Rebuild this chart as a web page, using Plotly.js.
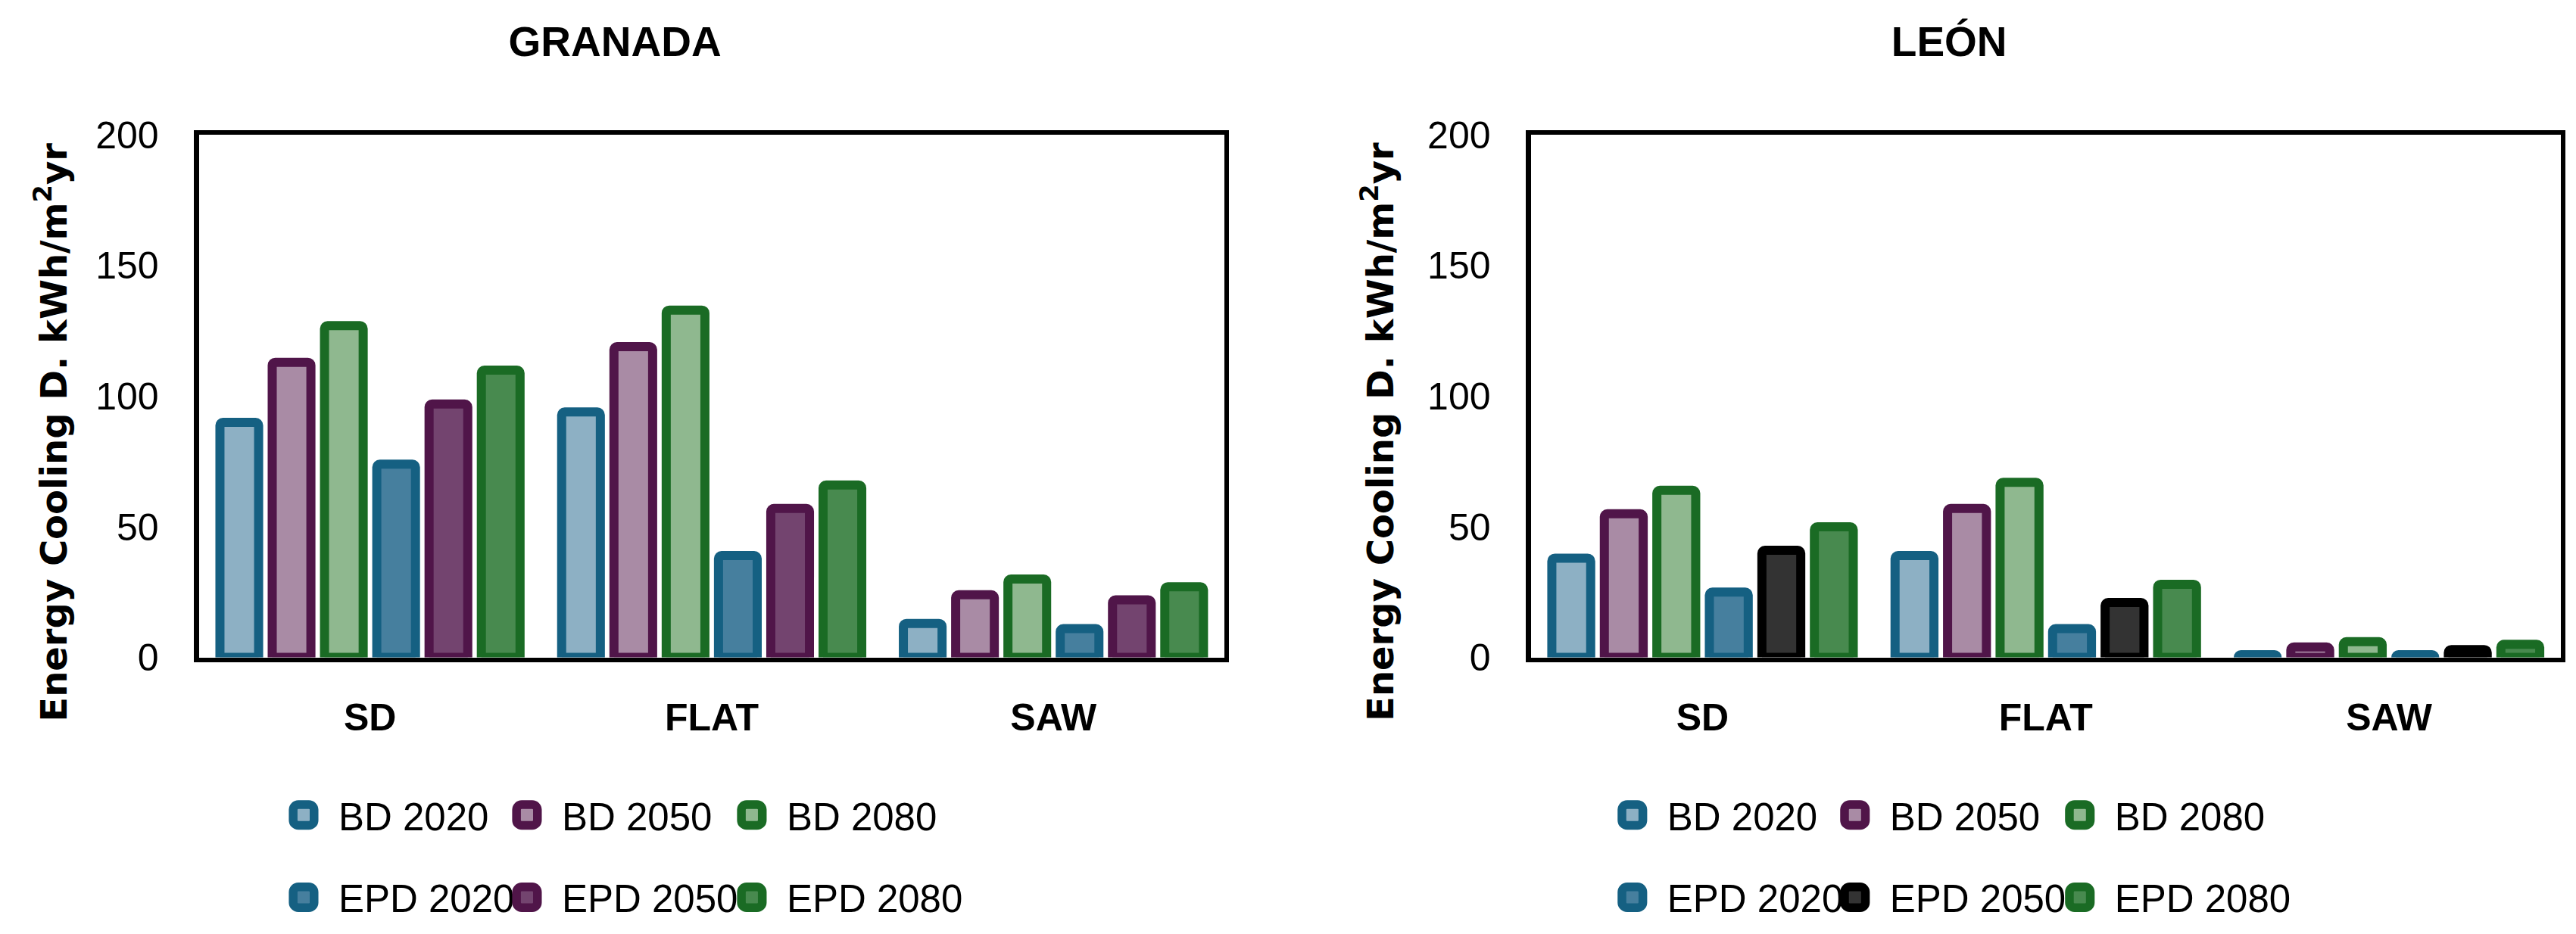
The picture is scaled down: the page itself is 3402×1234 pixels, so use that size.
<!DOCTYPE html>
<html>
<head>
<meta charset="utf-8">
<script src="https://cdn.plot.ly/plotly-3.0.1.min.js"></script>
<style>
html,body{margin:0;padding:0;background:#fff;overflow:hidden;}
#wrap{width:3402px;height:1234px;overflow:hidden;background:#fff;}
#chart{transform-origin:0 0;}
</style>
</head>
<body>
<div id="wrap"><div id="chart"></div></div>
<script>
// ---------- data ----------
const categories = ['SD', 'FLAT', 'SAW'];
const seriesNames = ['BD 2020', 'BD 2050', 'BD 2080', 'EPD 2020', 'EPD 2050', 'EPD 2080'];
const yTicks = [0, 50, 100, 150, 200];

const granadaBD2020  = [90, 94, 13];
const granadaBD2050  = [113, 119, 24];
const granadaBD2080  = [127, 133, 30];
const granadaEPD2020 = [74, 39, 11];
const granadaEPD2050 = [97, 57, 22];
const granadaEPD2080 = [110, 66, 27];

const leonBD2020  = [38, 39, 1];
const leonBD2050  = [55, 57, 4];
const leonBD2080  = [64, 67, 6];
const leonEPD2020 = [25, 11, 1];
const leonEPD2050 = [41, 21, 3];
const leonEPD2080 = [50, 28, 5];

const titleGranada = 'GRANADA';
const titleLeon = 'LEÓN';
const yTitle = 'Energy Cooling D. kWh/m<sup>2</sup>yr';

// ---------- styles ----------
const fillColors = ['#8DB0C4', '#A98BA5', '#8FB88F', '#467F9E', '#73446F', '#488A4F'];
const lineColors = ['#156082', '#501549', '#1A6B24', '#156082', '#501549', '#1A6B24'];
const leonFillColors = ['#8DB0C4', '#A98BA5', '#8FB88F', '#467F9E', '#333333', '#488A4F'];
const leonLineColors = ['#156082', '#501549', '#1A6B24', '#156082', '#000000', '#1A6B24'];

const S = 2.3;             // render scale
const W = 3402, H = 1234;
const u = v => v / S;
const px = v => v / W;
const py = v => 1 - v / H;

// layout targets (page px, measured on the reference)
const legGranadaX = [408, 703, 1000];
const legLeonX = [2163, 2457, 2754];
const legRowY = [1080, 1190];
const legShiftX = -7;
const yTickRightTarget = 209;
const xTickCenterTarget = 949;

function legId(k) { return k === 0 ? 'legend' : 'legend' + (k + 1); }

function mkTrace(name, vals, fill, line, xa, ya, legendId) {
  return {
    type: 'bar', name: name, x: categories, y: vals,
    xaxis: xa, yaxis: ya, legend: legendId,
    marker: {color: fill, line: {color: line, width: u(12)}, cornerradius: u(4)},
    hoverinfo: 'skip'
  };
}

const granadaSeries = [granadaBD2020, granadaBD2050, granadaBD2080, granadaEPD2020, granadaEPD2050, granadaEPD2080];
const leonSeries = [leonBD2020, leonBD2050, leonBD2080, leonEPD2020, leonEPD2050, leonEPD2080];

const traces = [];
granadaSeries.forEach((vals, i) => {
  traces.push(mkTrace(seriesNames[i], vals, fillColors[i], lineColors[i], 'x', 'y', legId(i)));
});
leonSeries.forEach((vals, i) => {
  traces.push(mkTrace(seriesNames[i], vals, leonFillColors[i], leonLineColors[i], 'x2', 'y2', legId(6 + i)));
});

const xCommon = {
  type: 'category', showline: true, mirror: true, linecolor: '#000', linewidth: u(6.5),
  ticks: '', showgrid: false, zeroline: false, layer: 'below traces', fixedrange: true,
  tickfont: {family: 'Liberation Sans Narrow, Liberation Sans, Arial, sans-serif', size: u(50), weight: 'bold', color: '#000'},
  ticklabelstandoff: 13
};
const yCommon = {
  range: [0, 200], tickmode: 'array', tickvals: yTicks, ticktext: yTicks.map(String),
  showline: true, mirror: true, linecolor: '#000', linewidth: u(6.5),
  ticks: '', showgrid: false, zeroline: false, layer: 'below traces', fixedrange: true,
  tickfont: {family: 'Liberation Sans, Arial, sans-serif', size: u(50), color: '#000'},
  ticklabelstandoff: 20
};
const legCommon = {
  orientation: 'h', xanchor: 'left', yanchor: 'middle',
  font: {family: 'Liberation Sans, Arial, sans-serif', size: u(51), color: '#000'},
  bgcolor: 'rgba(0,0,0,0)', borderwidth: 0, traceorder: 'normal'
};

const annFont = {family: 'Liberation Sans, Arial, sans-serif', size: u(55), weight: 'bold', color: '#000'};
const yTitleFont = {family: 'DejaVu Sans, Verdana, sans-serif', size: u(48), weight: 'bold', color: '#000'};

const layout = {
  width: W / S, height: H / S,
  margin: {l: 0, r: 0, t: 0, b: 0, pad: 0},
  paper_bgcolor: '#fff', plot_bgcolor: '#fff',
  font: {family: 'Liberation Sans, Arial, sans-serif', color: '#000', size: u(50)},
  barmode: 'group', bargap: 0.082, bargroupgap: 0.26,
  showlegend: true,
  xaxis: Object.assign({}, xCommon, {domain: [px(263), px(1617)], anchor: 'y'}),
  yaxis: Object.assign({}, yCommon, {domain: [py(871), py(179)], anchor: 'x'}),
  xaxis2: Object.assign({}, xCommon, {domain: [px(2022), px(3382)], anchor: 'y2'}),
  yaxis2: Object.assign({}, yCommon, {domain: [py(871), py(179)], anchor: 'x2'}),
  annotations: [
    {text: titleGranada, x: px(812), y: py(54), xref: 'paper', yref: 'paper', showarrow: false, xanchor: 'center', yanchor: 'middle', font: annFont},
    {text: titleLeon, x: px(2574), y: py(54), xref: 'paper', yref: 'paper', showarrow: false, xanchor: 'center', yanchor: 'middle', font: annFont},
    {text: yTitle, textangle: -90, x: px(68), y: py(572), xref: 'paper', yref: 'paper', showarrow: false, xanchor: 'center', yanchor: 'middle', font: yTitleFont},
    {text: yTitle, textangle: -90, x: px(1820), y: py(572), xref: 'paper', yref: 'paper', showarrow: false, xanchor: 'center', yanchor: 'middle', font: yTitleFont}
  ]
};

function legTarget(k) {
  const col = k % 3;
  const row = Math.floor((k % 6) / 3);
  return {x: (k < 6 ? legGranadaX[col] : legLeonX[col]) + legShiftX, y: legRowY[row]};
}

// one legend per entry, so each sits where the reference has it
for (let k = 0; k < 12; k++) {
  const t = legTarget(k);
  layout[legId(k)] = Object.assign({}, legCommon, {x: px(t.x - 20 * S), y: py(t.y)});
}

const el = document.getElementById('chart');
el.style.width = (W / S) + 'px';
el.style.height = (H / S) + 'px';
el.style.transform = 'scale(' + S + ')';

// fine-tune label / legend placement against the measured reference positions
function calibrate() {
  const upd = {};
  const yl = Array.from(el.querySelectorAll('g.ytick text')).find(t => t.textContent.trim() === '200');
  if (yl) {
    const r = yl.getBoundingClientRect();
    const ns = Math.max(0, Math.round(yCommon.ticklabelstandoff + (r.right - yTickRightTarget) / S));
    upd['yaxis.ticklabelstandoff'] = ns;
    upd['yaxis2.ticklabelstandoff'] = ns;
  }
  const xl = Array.from(el.querySelectorAll('g.xtick text')).find(t => t.textContent.trim() === 'SD');
  if (xl) {
    const r = xl.getBoundingClientRect();
    const cy = (r.top + r.bottom) / 2;
    const ns = Math.max(0, Math.round(xCommon.ticklabelstandoff + (xTickCenterTarget - cy) / S));
    upd['xaxis.ticklabelstandoff'] = ns;
    upd['xaxis2.ticklabelstandoff'] = ns;
  }
  for (let k = 0; k < 12; k++) {
    const id = legId(k);
    const g = el.querySelector('g.' + id);
    if (!g) continue;
    const sym = g.querySelector('path.legendbar');
    if (!sym) continue;
    const r = sym.getBoundingClientRect();
    const cx = (r.left + r.right) / 2, cy = (r.top + r.bottom) / 2;
    const t = legTarget(k);
    upd[id + '.x'] = layout[id].x + (t.x - cx) / W;
    upd[id + '.y'] = layout[id].y - (t.y - cy) / H;
  }
  return Plotly.relayout(el, upd);
}

function cleanup() {
  document.querySelectorAll('text').forEach(t => {
    if (!t.textContent.trim()) { t.remove(); return; }
    const r = t.getBoundingClientRect();
    if (r.width === 0 || r.height === 0) { t.remove(); return; }
    const base = parseFloat(getComputedStyle(t).fontSize) || u(48);
    t.style.fontSize = base + 'px';
    t.setAttribute('font-size', base);
    t.querySelectorAll('tspan').forEach(ts => {
      const fs = ts.style.fontSize;
      let size = base;
      if (fs && fs.trim().endsWith('%')) size = base * parseFloat(fs) / 100;
      else if (fs) size = parseFloat(fs) || base;
      ts.style.fontSize = size + 'px';
      ts.setAttribute('font-size', size);
    });
  });
}

Plotly.newPlot(el, traces, layout, {staticPlot: true, displayModeBar: false, responsive: false})
  .then(calibrate)
  .then(cleanup);
</script>
</body>
</html>
